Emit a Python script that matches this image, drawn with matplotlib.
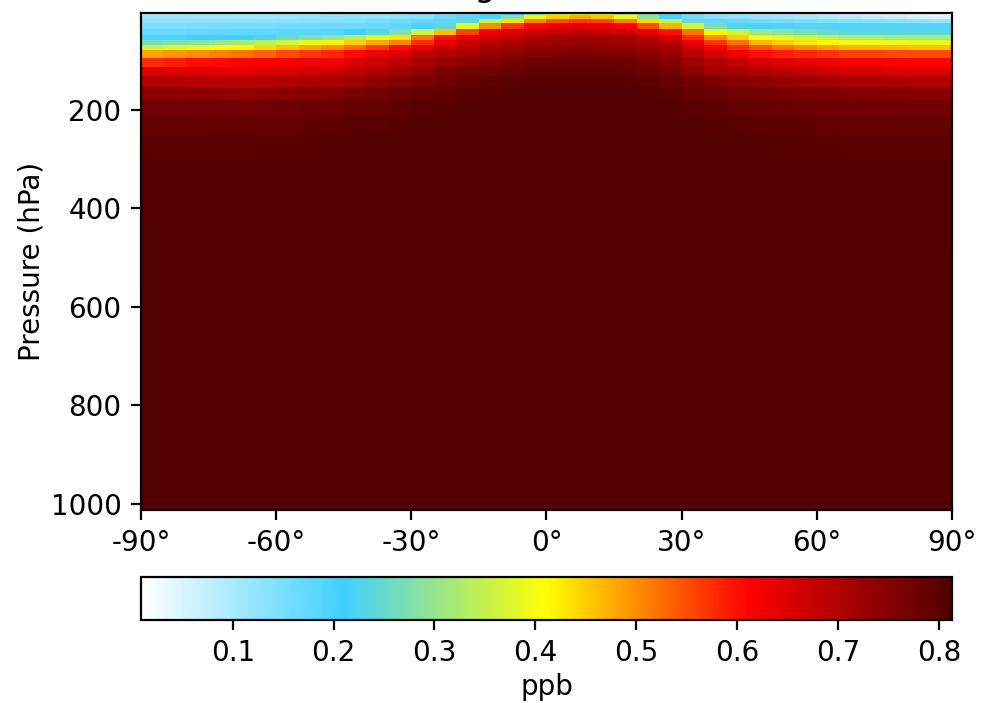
import matplotlib
matplotlib.use("Agg")
import matplotlib.pyplot as plt
from matplotlib.colors import LinearSegmentedColormap
import numpy as np

# latitude cell edges / centres (5 deg)
lat_edges = np.arange(-90, 91, 5)

# pressure level edges (hPa), top -> surface
p_edges = [3, 8, 15, 24, 36, 48, 58, 68, 79, 94, 112, 130, 153, 180, 210, 248,
           295, 350, 412, 482, 560, 645, 735, 825, 905, 965, 1013]

# mixing ratio (ppb), one row per level, 36 latitude cells S -> N
r00 = [.08, .085, .09, .092, .095, .1, .105, .108, .11, .11, .11, .11, .12, .13, .15, .17, .21, .31,
       .39, .42, .4, .34, .27, .2, .14, .1, .09, .08, .075, .07, .05, .04, .03, .02, .015, .009]
r01 = [.11, .11, .11, .11, .11, .115, .118, .12, .125, .127, .128, .13, .14, .16, .18, .2, .29, .39,
       .45, .48, .46, .39, .3, .2, .16, .14, .13, .12, .115, .11, .1, .09, .08, .07, .06, .05]
r02 = [.13, .13, .13, .13, .13, .133, .136, .138, .14, .147, .153, .16, .17, .18, .25, .35, .44, .51,
       .55, .57, .56, .51, .44, .35, .25, .18, .17, .16, .155, .15, .145, .14, .138, .135, .13, .12]
r03 = [.15, .15, .152, .153, .155, .156, .157, .158, .16, .165, .172, .18, .2, .25, .38, .5, .57, .61,
       .63, .64, .63, .61, .55, .47, .37, .27, .23, .2, .195, .19, .19, .19, .19, .19, .19, .19]
r04 = [.17, .172, .175, .177, .18, .181, .182, .183, .185, .21, .24, .28, .36, .46, .56, .63, .65, .67,
       .68, .69, .68, .67, .64, .6, .52, .42, .36, .31, .29, .27, .255, .24, .24, .24, .24, .24]
r05 = [.2, .2, .205, .207, .21, .23, .255, .28, .3, .34, .39, .43, .52, .6, .64, .66, .68, .7,
       .71, .72, .715, .71, .69, .655, .58, .5, .45, .41, .39, .37, .35, .33, .33, .325, .32, .32]
r06 = [.27, .28, .29, .305, .32, .345, .37, .395, .42, .45, .48, .51, .58, .64, .67, .69, .705, .715,
       .725, .73, .725, .72, .705, .685, .63, .57, .52, .47, .45, .43, .415, .4, .4, .395, .39, .39]
r07 = [.36, .375, .39, .405, .42, .44, .46, .48, .5, .53, .565, .6, .64, .67, .69, .71, .72, .73,
       .74, .745, .74, .735, .725, .715, .665, .61, .575, .54, .52, .5, .485, .47, .47, .465, .46, .46]
r08 = [.48, .49, .5, .51, .52, .535, .55, .565, .58, .605, .63, .65, .68, .7, .715, .73, .745, .755,
       .758, .76, .76, .758, .745, .73, .695, .66, .63, .6, .59, .58, .57, .56, .56, .555, .55, .55]
r09 = [.58, .59, .6, .605, .61, .615, .62, .625, .63, .65, .67, .69, .71, .73, .745, .76, .77, .78,
       .78, .78, .78, .78, .765, .75, .725, .7, .68, .66, .65, .64, .63, .62, .62, .615, .61, .61]
r10 = [.65, .648, .646, .645, .645, .65, .655, .66, .67, .685, .7, .72, .74, .76, .77, .775, .785, .79,
       .792, .792, .792, .79, .78, .77, .745, .72, .71, .7, .69, .68, .67, .66, .66, .655, .65, .65]
r11 = [.70, .698, .695, .693, .692, .695, .70, .705, .71, .725, .74, .755, .765, .775, .785, .793, .798, .802,
       .803, .803, .803, .802, .796, .79, .775, .76, .75, .74, .73, .725, .72, .71, .71, .705, .70, .70]
r12 = [.745, .743, .74, .738, .737, .74, .745, .75, .755, .765, .773, .782, .79, .796, .802, .806, .808, .81,
       .81, .81, .81, .81, .806, .80, .79, .78, .775, .77, .765, .76, .757, .755, .754, .752, .75, .75]
r13 = [.775, .775, .774, .773, .773, .775, .777, .779, .781, .786, .791, .796, .80, .803, .806, .808, .809, .81,
       .81, .81, .81, .81, .808, .806, .80, .795, .79, .785, .782, .78, .778, .776, .775, .775, .775, .775]
r14 = [.79, .789, .788, .787, .787, .789, .791, .793, .795, .798, .80, .802, .804, .806, .807, .808, .809, .81,
       .81, .811, .81, .81, .809, .808, .806, .803, .80, .797, .795, .793, .791, .79, .79, .79, .79, .79]
r15 = [.80, .80, .80, .80, .80, .801, .802, .803, .804, .805, .806, .807, .808, .808, .809, .81, .81, .811,
       .811, .812, .811, .811, .81, .81, .809, .807, .806, .805, .803, .802, .801, .80, .80, .80, .80, .80]
r16 = [.804, .804, .804, .804, .804, .805, .805, .806, .806, .807, .807, .808, .808, .809, .81, .81, .811, .811,
       .812, .812, .812, .811, .811, .81, .81, .809, .808, .807, .806, .805, .805, .804, .804, .804, .804, .804]
r17 = [.806, .806, .806, .807, .807, .807, .808, .808, .808, .809, .809, .81, .81, .81, .811, .811, .812, .812,
       .812, .812, .812, .812, .812, .811, .811, .81, .81, .809, .809, .808, .807, .807, .807, .806, .806, .806]
r18 = [.808, .808, .808, .808, .808, .809, .809, .809, .81, .81, .81, .811, .811, .811, .811, .812, .812, .812,
       .813, .813, .813, .813, .812, .812, .812, .811, .811, .81, .81, .81, .809, .809, .809, .809, .809, .809]
r19 = [.809, .809, .809, .809, .81, .81, .81, .81, .81, .811, .811, .811, .811, .812, .812, .812, .812, .813,
       .813, .813, .813, .813, .813, .812, .812, .812, .811, .811, .811, .81, .81, .81, .81, .81, .81, .81]
r20 = [.81, .81, .81, .81, .81, .81, .811, .811, .811, .811, .811, .812, .812, .812, .812, .812, .813, .813,
       .813, .813, .813, .813, .813, .813, .812, .812, .812, .812, .811, .811, .811, .811, .81, .81, .81, .81]
r21 = [.81, .81, .81, .811, .811, .811, .811, .811, .812, .812, .812, .812, .812, .812, .813, .813, .813, .813,
       .813, .813, .813, .813, .813, .813, .813, .812, .812, .812, .812, .811, .811, .811, .811, .811, .81, .81]
r22 = [.811, .811, .811, .811, .811, .811, .812, .812, .812, .812, .812, .812, .812, .813, .813, .813, .813, .813,
       .813, .813, .813, .813, .813, .813, .813, .813, .812, .812, .812, .812, .812, .811, .811, .811, .811, .811]
r23 = [.811, .811, .811, .811, .812, .812, .812, .812, .812, .812, .812, .813, .813, .813, .813, .813, .813, .813,
       .813, .813, .813, .813, .813, .813, .813, .813, .813, .812, .812, .812, .812, .812, .812, .812, .811, .811]
r24 = [.811, .811, .811, .812, .812, .812, .812, .812, .812, .812, .812, .813, .813, .813, .813, .813, .813, .813,
       .813, .813, .813, .813, .813, .813, .813, .813, .813, .813, .812, .812, .812, .812, .812, .812, .812, .811]
r25 = [.811, .811, .811, .812, .812, .812, .812, .812, .812, .812, .812, .812, .813, .813, .813, .813, .813, .813,
       .813, .813, .813, .813, .813, .813, .813, .813, .813, .813, .812, .812, .812, .812, .812, .812, .811, .811]

rows = [r00, r01, r02, r03, r04, r05, r06, r07, r08, r09, r10, r11, r12,
        r13, r14, r15, r16, r17, r18, r19, r20, r21, r22, r23, r24, r25]
data = np.array(rows, dtype=float)

xticks = [-90, -60, -30, 0, 30, 60, 90]
xticklabels = ['-90°', '-60°', '-30°', '0°', '30°', '60°', '90°']
yticks = [200, 400, 600, 800, 1000]
cticks = [0.1, 0.2, 0.3, 0.4, 0.5, 0.6, 0.7, 0.8]

cmap = LinearSegmentedColormap.from_list(
    'wbyr', ['#ffffff', '#40d0ff', '#ffff00', '#ff0000', '#500000'])

DPI = 200
fig = plt.figure(figsize=(992 / DPI, 703 / DPI), dpi=DPI)
ax = fig.add_axes([0.1421, 0.2745, 0.8175, 0.707])
cax = fig.add_axes([0.1421, 0.118, 0.8175, 0.0612])

mesh = ax.pcolormesh(lat_edges, p_edges, data, cmap=cmap,
                     vmin=data.min(), vmax=data.max())
ax.set_xlim(-90, 90)
ax.set_ylim(1013, 3)
ax.set_xticks(xticks)
ax.set_xticklabels(xticklabels)
ax.set_yticks(yticks)
ax.set_ylabel('Pressure (hPa)', labelpad=2)
# title sits above the top edge; only the descender shows, as in the original
ax.set_title('Tracer: long-lived zonal mean')

cb = fig.colorbar(mesh, cax=cax, orientation='horizontal')
cb.set_ticks(cticks)
cb.set_label('ppb', labelpad=2)

fig.savefig('out.png', dpi=DPI)
